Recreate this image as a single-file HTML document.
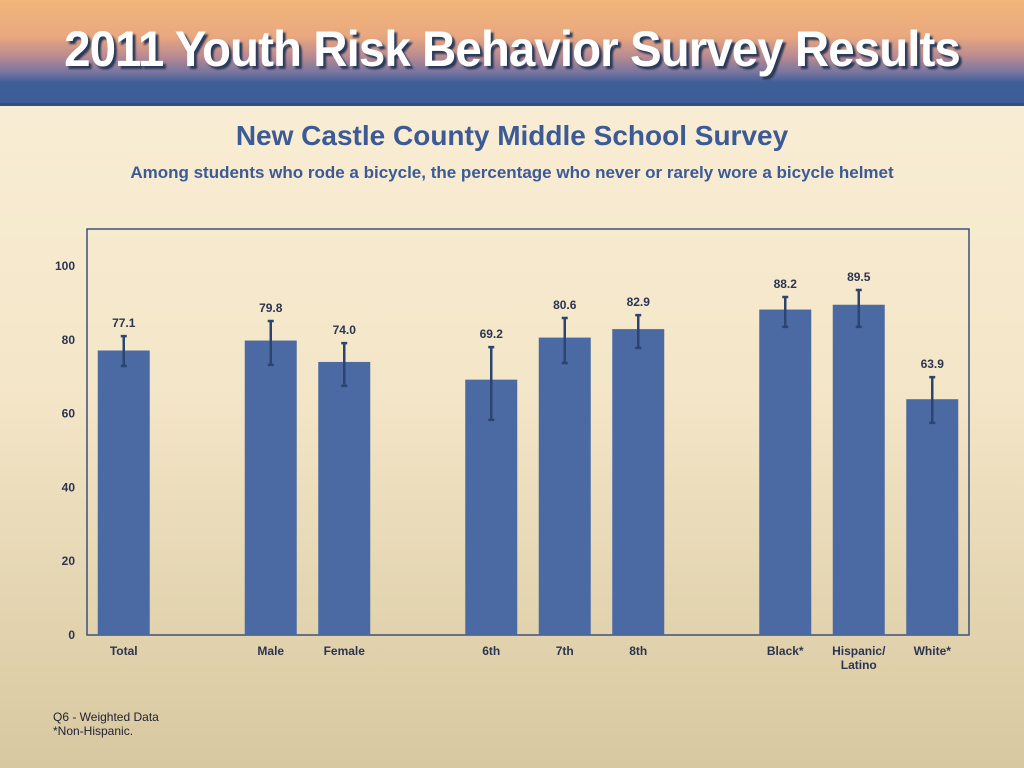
<!DOCTYPE html>
<html><head><meta charset="utf-8"><style>
body{margin:0;width:1024px;height:768px;overflow:hidden;font-family:"Liberation Sans",sans-serif;background:linear-gradient(#faefd9 0%,#f4e6c8 50%,#d8c8a0 100%);position:relative}
.banner{position:absolute;left:0;top:0;width:1024px;height:103px;background:linear-gradient(#f0b67a 0%,#eaa87e 35%,#b88a92 55%,#7a75a0 70%,#3f5f98 80%,#3b5c96 100%);border-bottom:3px solid #2f4d80}
.banner h1{margin:0;position:absolute;left:0;width:1024px;top:20px;text-align:center;color:#fff;font:bold 50px "Liberation Sans",sans-serif;letter-spacing:-1px;text-shadow:3px 3px 2px #2a3a5a;transform:scaleX(0.95)}
.t{position:absolute;left:0;width:1024px;text-align:center;color:#3b5a96;font-weight:bold}
.fn{position:absolute;left:53px;top:710px;font-size:12px;color:#223;line-height:14px}
</style></head><body>
<div class="banner"><h1>2011 Youth Risk Behavior Survey Results</h1></div>
<div class="t" style="top:120px;font-size:28px">New Castle County Middle School Survey</div>
<div class="t" style="top:163px;font-size:17px">Among students who rode a bicycle, the percentage who never or rarely wore a bicycle helmet</div>
<svg id="c" width="1024" height="768" style="position:absolute;left:0;top:0"></svg>
<div class="fn">Q6 - Weighted Data<br>*Non-Hispanic.</div>
<script>
const categories=["Total","","","Male","Female","","6th","7th","8th","","Black*","Hispanic/|Latino","White*"];
const slots=[0,2,3,5,6,7,9,10,11];
const labels=["Total","Male","Female","6th","7th","8th","Black*","Hispanic/|Latino","White*"];
const values=[77.1,79.8,74.0,69.2,80.6,82.9,88.2,89.5,63.9];
const upper=[81.0,85.1,79.1,78.0,85.9,86.7,91.6,93.5,69.9];
const lower=[72.9,73.2,67.5,58.3,73.7,77.8,83.5,83.5,57.5];
const yTicks=[0,20,40,60,80,100];
const L=87,R=969,T=229,B=635,NS=12;
const sw=(R-L)/NS;
const x=i=>L+sw*(i+0.5);
const y=v=>B-v*3.69;
const svg=document.getElementById('c');const ns="http://www.w3.org/2000/svg";
function mk(t,a,txt){const e=document.createElementNS(ns,t);for(const k in a)e.setAttribute(k,a[k]);if(txt!=null)e.textContent=txt;svg.appendChild(e);return e;}
const frame=mk('rect',{x:L,y:T,width:R-L,height:B-T,fill:'none',stroke:'#3b5178','stroke-width':1.5});


yTicks.forEach(v=>{const t=mk('text',{x:75,y:y(v)+4,'text-anchor':'end','font-size':12,'font-weight':'bold',fill:'#2b3550'},v);

});
values.forEach((v,i)=>{const cx=x(slots[i]);
const b=mk('rect',{x:cx-26,y:y(v),width:52,height:B-y(v),fill:'#4b6aa3'});


const g=mk('path',{d:`M${cx},${y(upper[i])}V${y(lower[i])}M${cx-3},${y(upper[i])}h6M${cx-3},${y(lower[i])}h6`,stroke:'#2c4470','stroke-width':2.5,fill:'none'});


const l=mk('text',{x:cx,y:y(upper[i])-9,'text-anchor':'middle','font-size':12,'font-weight':'bold',fill:'#2b3550'},v.toFixed(1));


labels[i].split('|').forEach((s,j)=>{const c=mk('text',{x:cx,y:655+j*14,'text-anchor':'middle','font-size':12,'font-weight':'bold',fill:'#2b3550'},s);

});});
</script>
</body></html>
